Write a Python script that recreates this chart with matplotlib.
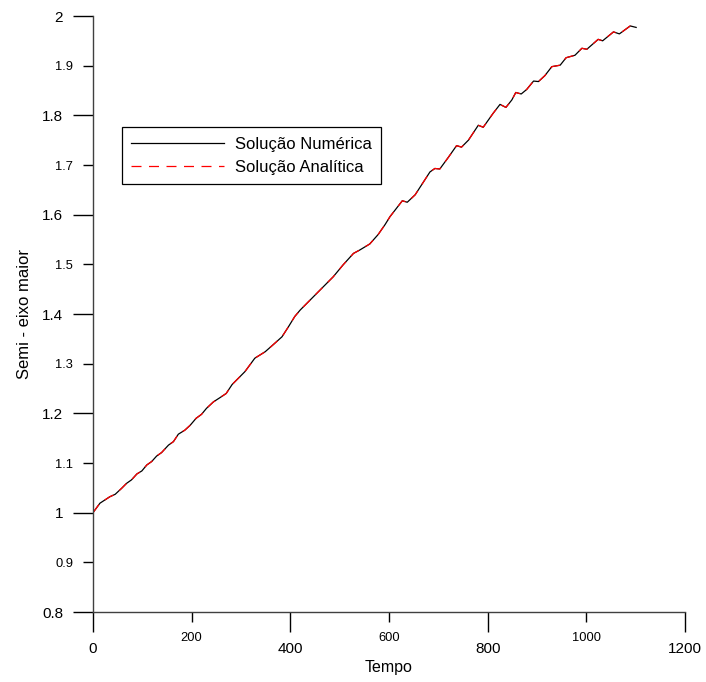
import matplotlib
matplotlib.use("Agg")
import matplotlib.pyplot as plt
from matplotlib.ticker import FixedLocator, FuncFormatter
from matplotlib.patches import Rectangle

plt.rcParams['font.family'] = ['Liberation Sans', 'DejaVu Sans']

tempo = [0, 14, 34, 45, 58, 68, 78, 89, 99, 109, 119, 129, 139, 153, 163, 173,
         186, 197, 209, 220, 230, 244, 258, 270, 282, 298, 308, 328, 349, 365,
         383, 396, 409, 420, 440, 467, 487, 507, 528, 541, 561, 578, 592, 602,
         627, 637, 653, 668, 683, 693, 703, 720, 737, 747, 761, 781, 791, 811,
         825, 837, 849, 857, 868, 879, 893, 903, 916, 930, 947, 959, 977, 991,
         1001, 1024, 1033, 1055, 1067, 1089, 1101]
semi_numerica = [1.000, 1.019, 1.032, 1.037, 1.049, 1.059, 1.066, 1.078, 1.084,
                 1.096, 1.103, 1.114, 1.121, 1.136, 1.143, 1.158, 1.166, 1.176,
                 1.190, 1.198, 1.210, 1.223, 1.232, 1.240, 1.258, 1.274, 1.284,
                 1.311, 1.324, 1.338, 1.354, 1.374, 1.395, 1.408, 1.428, 1.455,
                 1.475, 1.499, 1.522, 1.529, 1.541, 1.560, 1.580, 1.596, 1.628,
                 1.625, 1.640, 1.663, 1.686, 1.693, 1.692, 1.715, 1.739, 1.736,
                 1.750, 1.780, 1.776, 1.804, 1.822, 1.816, 1.831, 1.846, 1.843,
                 1.852, 1.869, 1.868, 1.880, 1.898, 1.901, 1.916, 1.921, 1.935,
                 1.933, 1.953, 1.950, 1.968, 1.964, 1.980, 1.977]
semi_analitica = list(semi_numerica)

x_major = [0, 400, 800, 1200]
x_minor = [200, 600, 1000]
y_major = [0.8, 1.0, 1.2, 1.4, 1.6, 1.8, 2.0]
y_minor = [0.9, 1.1, 1.3, 1.5, 1.7, 1.9]

W, H = 706, 682
fig = plt.figure(figsize=(W / 100, H / 100), dpi=100)
ax = fig.add_axes([93 / W, 70 / H, 592 / W, 596 / H])

ax.plot(tempo, semi_numerica, color='black', lw=0.9, label='Solução Numérica')
ax.plot(tempo, semi_analitica, color='#ff0000', lw=0.9, dashes=(8, 6),
        label='Solução Analítica')

ax.set_xlim(0, 1200)
ax.set_ylim(0.8, 2.0)

for side in ('top', 'right'):
    ax.spines[side].set_visible(False)
for side in ('left', 'bottom'):
    ax.spines[side].set_color('#404040')
    ax.spines[side].set_linewidth(1.0)

fmt = FuncFormatter(lambda v, p: f"{v:g}")
ax.xaxis.set_major_locator(FixedLocator(x_major))
ax.xaxis.set_minor_locator(FixedLocator(x_minor))
ax.yaxis.set_major_locator(FixedLocator(y_major))
ax.yaxis.set_minor_locator(FixedLocator(y_minor))
for axis in (ax.xaxis, ax.yaxis):
    axis.set_major_formatter(fmt)
    axis.set_minor_formatter(fmt)

ax.tick_params(which='major', direction='out', length=14.5, width=1.0,
               labelsize=11, pad=7, color='black')
ax.tick_params(which='minor', direction='out', length=7.2, width=1.0,
               labelsize=9.3, pad=7, color='black')

ax.set_xlabel('Tempo', fontsize=11.5)
ax.xaxis.set_label_coords(0.5, -(660 - 612) / 596, transform=ax.transAxes)
ax.set_ylabel('Semi - eixo maior', fontsize=12)
ax.yaxis.set_label_coords(-(93 - 32) / 592, 0.5)

leg = ax.legend(loc='upper left', bbox_to_anchor=(131 / W, 1 - 137 / H),
                bbox_transform=fig.transFigure, frameon=False, fontsize=12,
                handlelength=5.6, handletextpad=0.66, labelspacing=0.5,
                borderpad=0, borderaxespad=0)
fig.patches.append(Rectangle((122 / W, 1 - 184 / H), 259 / W, 57 / H,
                             transform=fig.transFigure, fill=False,
                             edgecolor='black', lw=0.9))

fig.savefig('out.png', dpi=100)
